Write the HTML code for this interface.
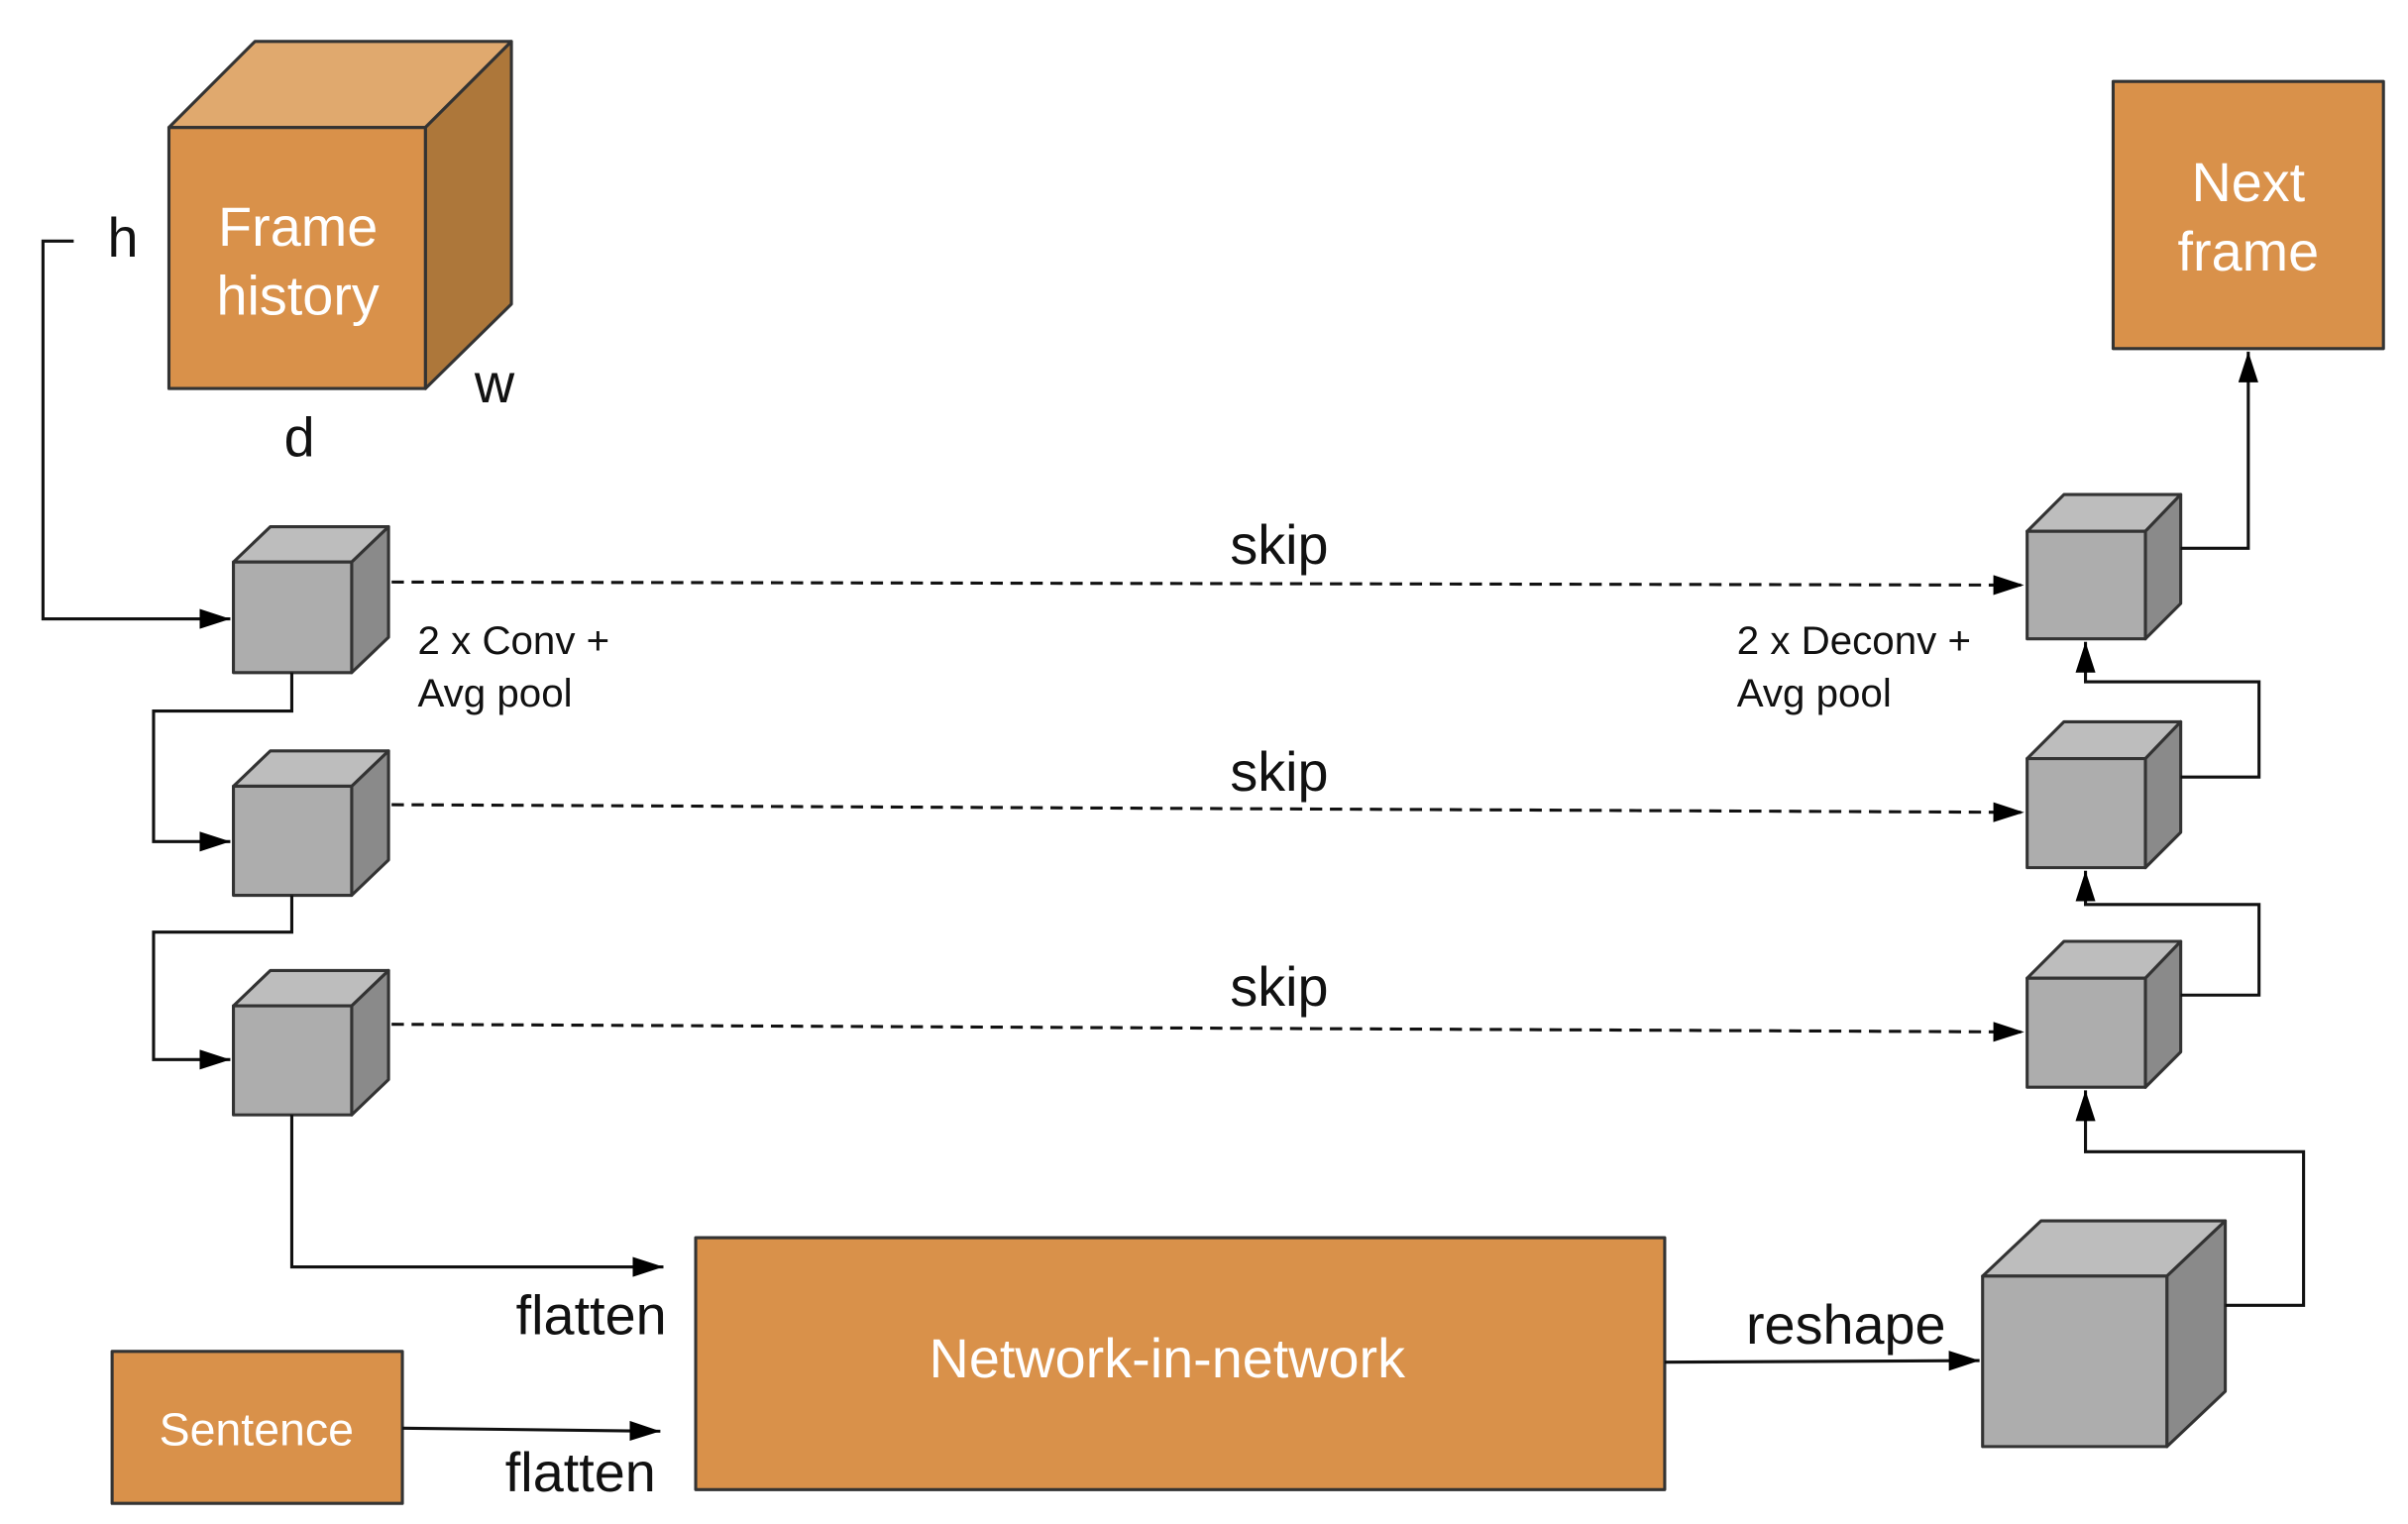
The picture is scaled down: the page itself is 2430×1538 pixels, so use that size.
<!DOCTYPE html>
<html><head><meta charset="utf-8"><style>html,body{margin:0;padding:0;background:#fff}svg{display:block}svg text{font-family:"Liberation Sans",Arial,sans-serif}</style></head>
<body>
<svg width="2430" height="1538" viewBox="0 0 1568 992.4" xmlns="http://www.w3.org/2000/svg" style='font-family:"Liberation Sans",Arial,sans-serif'>
<defs>
<marker id="b" viewBox="0 0 10 10" refX="10" refY="5" markerWidth="20" markerHeight="13" markerUnits="userSpaceOnUse" orient="auto" preserveAspectRatio="none"><path d="M0,0 L10,5 L0,10 z" fill="#000"/></marker>
</defs>
<g stroke="#333" stroke-width="2" stroke-linejoin="round">
<polygon points="110,83 166,27 333,27 277,83" fill="#E0A96E"/>
<polygon points="277,83 333,27 333,198 277,253" fill="#AD773A"/>
<rect x="110" y="83" width="167" height="170" fill="#D9914A"/>
<polygon points="152,366 176,343 253,343 229,366" fill="#BDBDBD"/><polygon points="229,366 253,343 253,415 229,438" fill="#8A8A8A"/><rect x="152" y="366" width="77" height="72" fill="#ADADAD"/>
<polygon points="152,512 176,489 253,489 229,512" fill="#BDBDBD"/><polygon points="229,512 253,489 253,560 229,583" fill="#8A8A8A"/><rect x="152" y="512" width="77" height="71" fill="#ADADAD"/>
<polygon points="152,655 176,632 253,632 229,655" fill="#BDBDBD"/><polygon points="229,655 253,632 253,703 229,726" fill="#8A8A8A"/><rect x="152" y="655" width="77" height="71" fill="#ADADAD"/>
<polygon points="1320,346 1344,322 1420,322 1397,346" fill="#BDBDBD"/><polygon points="1397,346 1420,322 1420,393 1397,416" fill="#8A8A8A"/><rect x="1320" y="346" width="77" height="70" fill="#ADADAD"/>
<polygon points="1320,494 1344,470 1420,470 1397,494" fill="#BDBDBD"/><polygon points="1397,494 1420,470 1420,542 1397,565" fill="#8A8A8A"/><rect x="1320" y="494" width="77" height="71" fill="#ADADAD"/>
<polygon points="1320,637 1344,613 1420,613 1397,637" fill="#BDBDBD"/><polygon points="1397,637 1420,613 1420,685 1397,708" fill="#8A8A8A"/><rect x="1320" y="637" width="77" height="71" fill="#ADADAD"/>
<polygon points="1291,831 1329,795 1449,795 1411,831" fill="#BDBDBD"/><polygon points="1411,831 1449,795 1449,906 1411,942" fill="#8A8A8A"/><rect x="1291" y="831" width="120" height="111" fill="#ADADAD"/>
<rect x="1376" y="53" width="176" height="174" fill="#D9914A"/>
<rect x="453" y="806" width="631" height="164" fill="#D9914A"/>
<rect x="73" y="880" width="189" height="99" fill="#D9914A"/>
</g>
<g stroke="#111" stroke-width="2" fill="none">
<polyline points="48,157 28,157 28,403 150,403" marker-end="url(#b)"/>
<polyline points="190,438 190,463 100,463 100,548 150,548" marker-end="url(#b)"/>
<polyline points="190,583 190,607 100,607 100,690 150,690" marker-end="url(#b)"/>
<polyline points="190,726 190,825 432,825" marker-end="url(#b)"/>
<line x1="262" y1="930" x2="430" y2="932" marker-end="url(#b)"/>
<line x1="1084" y1="887" x2="1289" y2="886" marker-end="url(#b)"/>
<polyline points="1420,357 1464,357 1464,229" marker-end="url(#b)"/>
<polyline points="1420,506 1471,506 1471,444 1358,444 1358,418" marker-end="url(#b)"/>
<polyline points="1420,648 1471,648 1471,589 1358,589 1358,567" marker-end="url(#b)"/>
<polyline points="1449,850 1500,850 1500,750 1358,750 1358,710" marker-end="url(#b)"/>
<g stroke-dasharray="8,5">
<line x1="255" y1="379" x2="1318" y2="381" marker-end="url(#b)"/>
<line x1="255" y1="524" x2="1318" y2="529" marker-end="url(#b)"/>
<line x1="255" y1="667" x2="1318" y2="672" marker-end="url(#b)"/>
</g>
</g>
<g font-size="36" fill="#fff" text-anchor="middle">
<text x="194" y="160">Frame</text><text x="194" y="205">history</text>
<text x="1464" y="131">Next</text><text x="1464" y="176">frame</text>
<text x="760" y="897">Network-in-network</text>
<text x="167" y="941" font-size="30">Sentence</text>
</g>
<g font-size="36" fill="#111" text-anchor="middle">
<text x="80" y="167">h</text><text x="322" y="262">w</text><text x="195" y="297">d</text>
<text x="833" y="367">skip</text><text x="833" y="515">skip</text><text x="833" y="655">skip</text>
<text x="385" y="869">flatten</text><text x="378" y="971">flatten</text>
<text x="1202" y="875">reshape</text>
</g>
<g font-size="26" fill="#111">
<text x="272" y="426">2 x Conv +</text><text x="272" y="460">Avg pool</text>
<text x="1131" y="426">2 x Deconv +</text><text x="1131" y="460">Avg pool</text>
</g>
</svg>
</body></html>
